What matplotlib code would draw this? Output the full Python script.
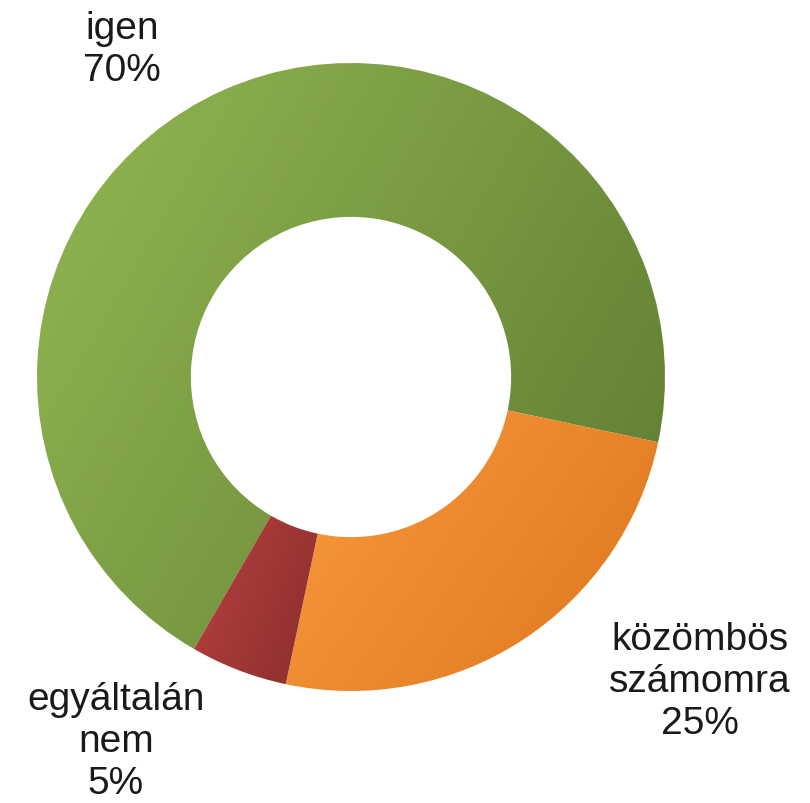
import numpy as np
import matplotlib.pyplot as plt
from matplotlib.colors import LinearSegmentedColormap

labels = ["igen", "közömbös\nszámomra", "egyáltalán\nnem"]
values = [70, 25, 5]
light_colors = ["#93b852", "#fb9a3e", "#b8423f"]
dark_colors = ["#5e7b31", "#dc761d", "#8a2d2d"]

plt.rcParams['font.family'] = ['Liberation Sans', 'DejaVu Sans']

fig = plt.figure(figsize=(8.1, 8.04), dpi=100)
ax = fig.add_axes([0, 0, 1, 1])
ax.set_xlim(0, 810)
ax.set_ylim(0, 804)
ax.set_aspect('equal')
ax.axis('off')

cx, cy, r = 351, 426, 314
wedges, _ = ax.pie(values, center=(cx, cy), radius=r, startangle=-120,
                   counterclock=False, frame=False,
                   wedgeprops=dict(width=r * 0.49, facecolor='none', edgecolor='none'))

# gradient for each slice, light at left/top, dark at bottom-right
for w, c0, c1 in zip(wedges, light_colors, dark_colors):
    bb = w.get_path().get_extents(w.get_transform() + ax.transData.inverted())
    x0, y0, x1, y1 = bb.x0, bb.y0, bb.x1, bb.y1
    xs = np.linspace(0, 1, 200)
    ys = np.linspace(0, 1, 200)
    X, Y = np.meshgrid(xs, ys)
    grad = 0.65 * X + 0.35 * Y  # row 0 at top
    cmap = LinearSegmentedColormap.from_list("g", [c0, c1])
    im = ax.imshow(grad, cmap=cmap, extent=(x0, x1, y0, y1), origin='upper',
                   interpolation='bilinear', zorder=1)
    im.set_clip_path(w)
ax.set_xlim(0, 810)
ax.set_ylim(0, 804)

txt = dict(fontsize=28, color='#1a1a1a', ha='center', va='center',
           multialignment='center', linespacing=1.22)
ax.text(122, 754, f"{labels[0]}\n{values[0]}%", **txt)
ax.text(700, 122, f"{labels[1]}\n{values[1]}%", **txt)
ax.text(116, 62, f"{labels[2]}\n{values[2]}%", **txt)

fig.savefig("out.png", dpi=100)
